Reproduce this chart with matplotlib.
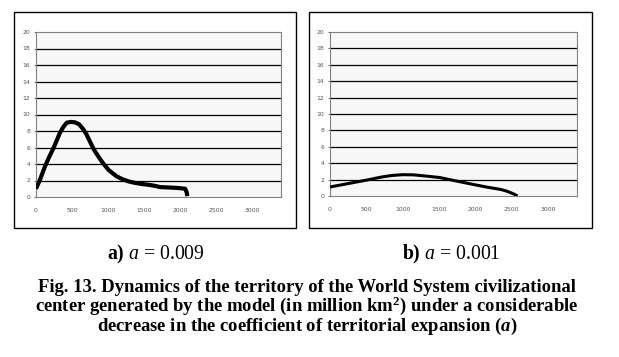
import matplotlib
matplotlib.use("Agg")
import matplotlib.pyplot as plt
from matplotlib.patches import Rectangle

plt.rcParams["mathtext.fontset"] = "custom"
plt.rcParams["mathtext.rm"] = "Liberation Serif"
plt.rcParams["mathtext.it"] = "Liberation Serif:italic"
plt.rcParams["mathtext.bf"] = "Liberation Serif:bold"
plt.rcParams["mathtext.bfit"] = "Liberation Serif:bold:italic"

# Data
years_a = [0, 60, 120, 180, 241, 290, 333, 380, 426, 480, 542, 600, 657, 700, 750, 800, 866, 930, 1005, 1060,
           1120, 1200, 1280, 1352, 1450, 1583, 1650, 1722, 1850, 1954, 2020, 2070, 2090, 2100]
terr_a = [1.0, 2.2, 3.6, 4.8, 5.9, 6.9, 7.8, 8.5, 9.0, 9.1, 9.05, 8.8, 8.2, 7.6, 6.7, 5.8, 4.9, 4.1, 3.3, 2.9,
          2.5, 2.15, 1.9, 1.75, 1.6, 1.45, 1.35, 1.2, 1.15, 1.1, 1.05, 1.0, 0.6, 0.1]
years_b = [0, 150, 300, 512, 700, 850, 1000, 1150, 1300, 1512, 1700, 1977, 2150, 2349, 2430, 2488, 2540, 2581]
terr_b = [1.1, 1.35, 1.6, 1.95, 2.3, 2.5, 2.6, 2.58, 2.45, 2.25, 1.9, 1.4, 1.1, 0.8, 0.6, 0.4, 0.2, 0.0]

xticks = [0, 500, 1000, 1500, 2000, 2500, 3000]
yticks = [0, 2, 4, 6, 8, 10, 12, 14, 16, 18, 20]

W, H = 619, 357
fig = plt.figure(figsize=(W / 100, H / 100), dpi=100)
fig.patch.set_facecolor("white")


def fx(px):
    return px / W


def fy(py):
    return 1 - py / H


def panel(frame, ax_box, xs, ys, lw):
    fl, ft, fr, fb = frame
    fig.add_artist(Rectangle((fx(fl), fy(fb)), fx(fr - fl), (fb - ft) / H,
                             transform=fig.transFigure, fill=False,
                             edgecolor="black", linewidth=1.0))
    l, t, r, b = ax_box
    ax = fig.add_axes([fx(l), fy(b), fx(r - l), (b - t) / H])
    ax.set_facecolor("#f7f7f7")
    ax.set_xlim(0, 3400)
    ax.set_ylim(0, 20)
    ax.set_xticks(xticks)
    ax.set_yticks(yticks)
    ax.set_xticklabels([str(v) for v in xticks])
    ax.set_yticklabels([str(v) for v in yticks])
    ax.tick_params(axis="both", labelsize=4.4, colors="#555555", length=1.5, width=0.6,
                   pad=2.5)
    ax.tick_params(axis="x", length=0, pad=8)
    for s in ax.spines.values():
        s.set_color("#808080")
        s.set_linewidth(0.8)
    for v in yticks[1:-1]:
        ax.axhline(v, color="black", linewidth=0.9, zorder=1)
    ax.plot(xs, ys, color="black", linewidth=lw, solid_capstyle="butt",
            solid_joinstyle="round", zorder=3)
    return ax


panel((14, 12, 296, 228), (36, 32, 281, 197), years_a, terr_a, 3.0)
panel((309, 12, 592, 228), (330, 32, 577, 196), years_b, terr_b, 2.2)

serif = ["Liberation Serif", "DejaVu Serif"]

fig.text(fx(156), fy(254), r"$\mathbf{a)}$ $a$ = 0.009", ha="center", va="center",
         fontsize=14.2, family=serif)
fig.text(fx(451), fy(254), r"$\mathbf{b)}$ $a$ = 0.001", ha="center", va="center",
         fontsize=14.2, family=serif)

caption = ("Fig. 13. Dynamics of the territory of the World System civilizational\n"
           r"center generated by the model (in million km$^{\mathbf{2}}$) under a considerable" "\n"
           r"decrease in the coefficient of territorial expansion ($\boldsymbol{a}$)")
fig.text(fx(307), fy(308), caption, ha="center", va="center", ma="center",
         fontsize=13.4, fontweight="bold", family=serif, linespacing=0.9)

fig.savefig("out.png", dpi=100)
